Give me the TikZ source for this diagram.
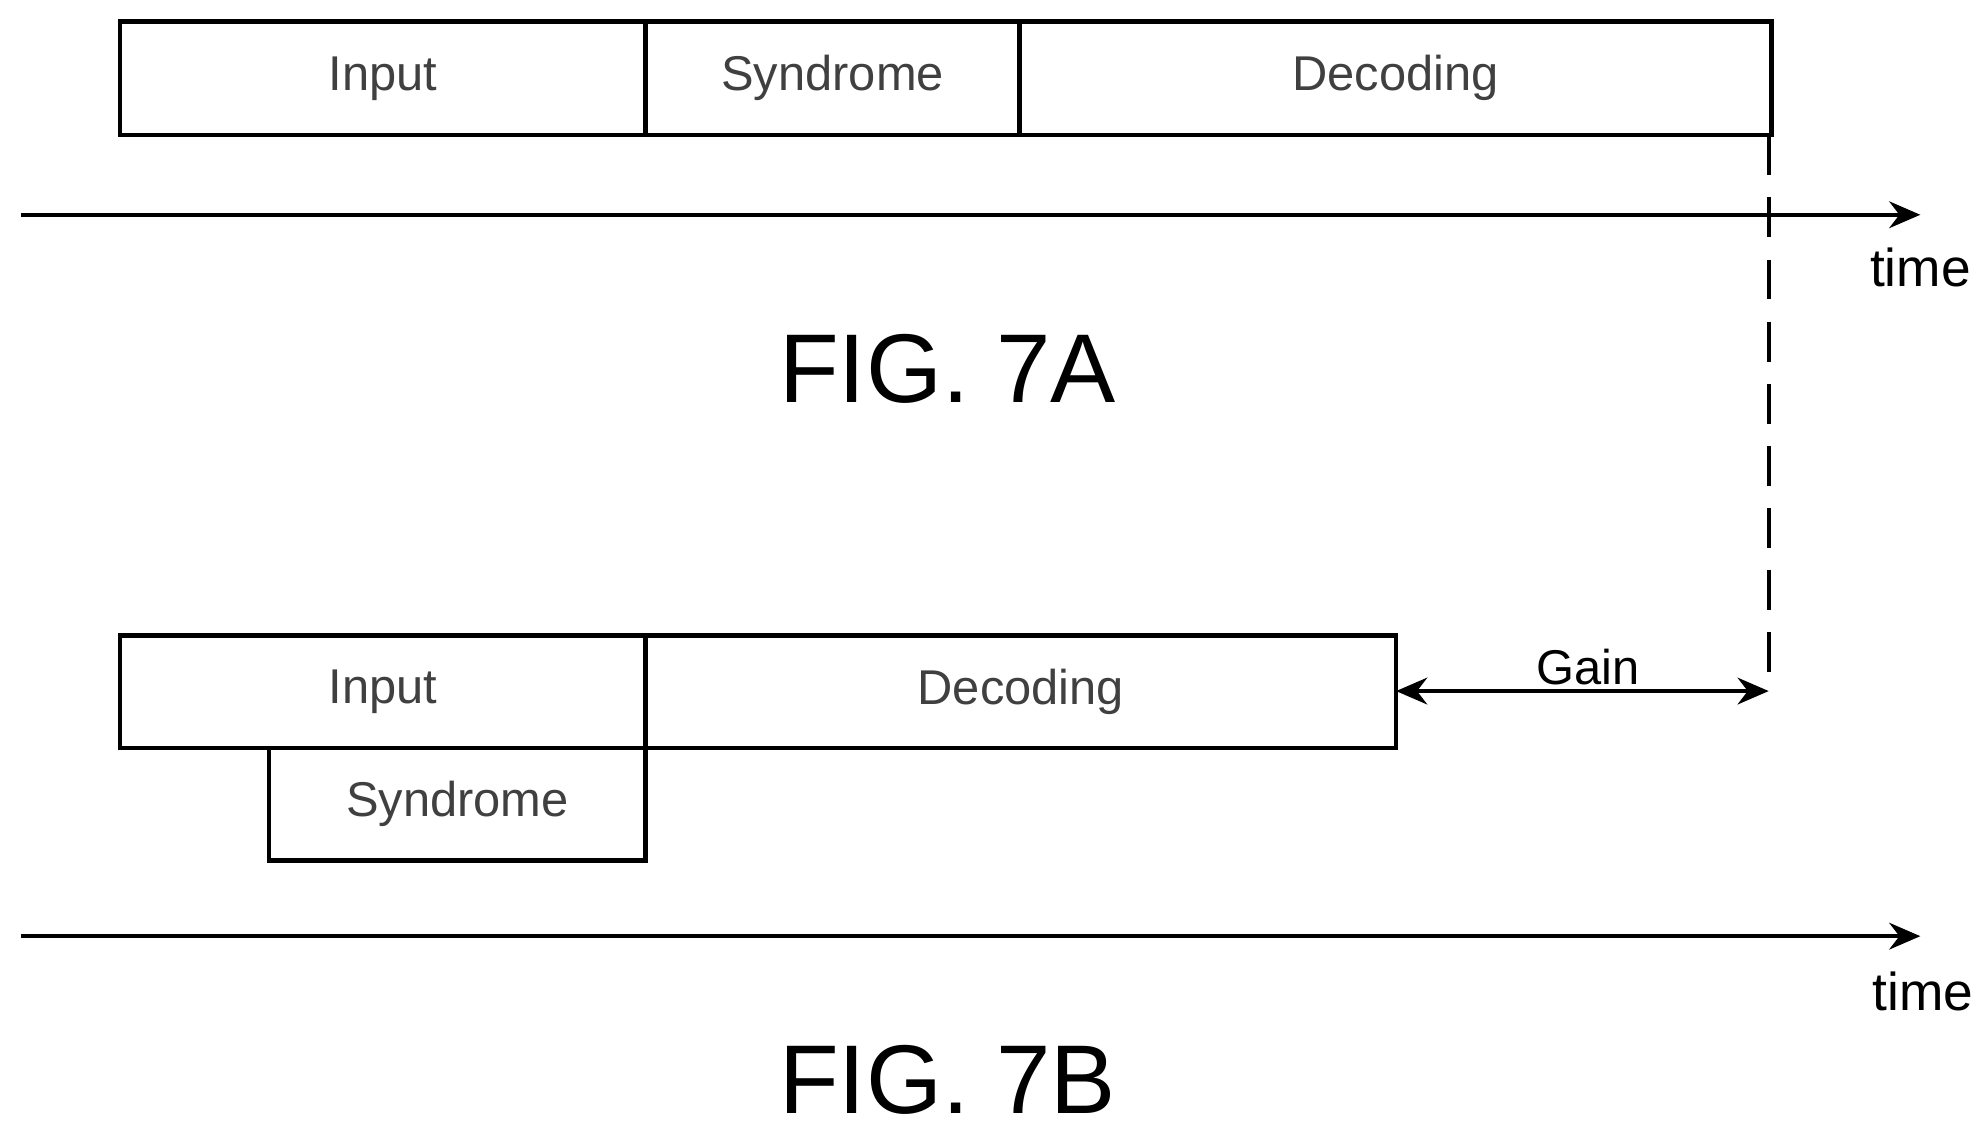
\documentclass[tikz,border=0pt]{standalone}
\usepackage{fontspec}
\setmainfont{Liberation Sans}
\usetikzlibrary{arrows.meta}
\begin{document}
\begin{tikzpicture}[x=0.1mm,y=-0.1mm,
  box/.style={draw,line width=1pt,inner sep=0pt},
  lbl/.style={font=\fontsize{11}{13}\selectfont,text=black!75},
  axis/.style={line width=1pt,-{Stealth[length=7pt,width=6pt]}},
  fig/.style={font=\fontsize{22}{26}\selectfont}]
\useasboundingbox (0,0) rectangle (1568,900);
% 7A
\draw[box] (95,17) rectangle (511,107) node[midway,lbl] (ai) {Input};
\draw[box] (511,17) rectangle (807,107) node[midway,lbl] (as) {Syndrome};
\draw[box] (807,17) rectangle (1402,107) node[midway,lbl] (ad) {Decoding};
\coordinate (a0) at (17,170); \coordinate (a1) at (1520,170);
\draw[axis] (a0) -- (a1);
\node[font=\fontsize{12}{14}\selectfont] (t1) at (1520,212) {time};
\node[fig] (f1) at (750,292) {FIG. 7A};
\coordinate (d0) at (1400,107); \coordinate (d1) at (1400,548);
\draw[line width=1pt,dash pattern=on 9pt off 5pt] (d0) -- (d1);
% 7B
\draw[box] (95,503) rectangle (511,592) node[midway,lbl] (bi) {Input};
\draw[box] (511,503) rectangle (1105,592) node[midway,lbl] (bd) {Decoding};
\draw[box] (213,592) rectangle (511,681) node[midway,lbl] (bs) {Syndrome};
\coordinate (g0) at (1105,547); \coordinate (g1) at (1400,547);
\draw[line width=1pt,{Stealth[length=7pt,width=6pt]}-{Stealth[length=7pt,width=6pt]}] (g0) -- (g1);
\node[font=\fontsize{11}{13}\selectfont] (gain) at (1257,528) {Gain};
\coordinate (b0) at (17,741); \coordinate (b1) at (1520,741);
\draw[axis] (b0) -- (b1);
\node[font=\fontsize{12}{14}\selectfont] (t2) at (1522,785) {time};
\node[fig] (f2) at (750,855) {FIG. 7B};
\end{tikzpicture}
\end{document}
